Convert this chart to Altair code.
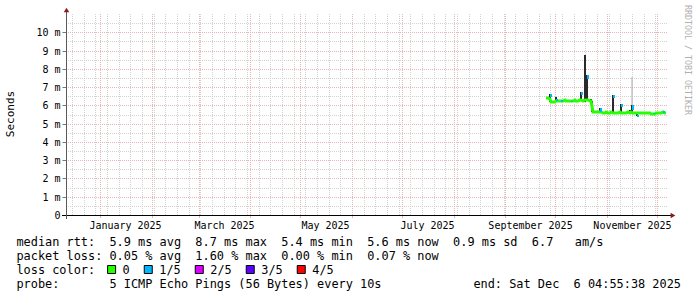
import altair as alt
import pandas as pd

MONO = "DejaVu Sans Mono"

# ---------------- data ----------------
# daily median RTT (ms), one value per day at 12:00 UTC starting 2025-09-25
median_first_day = "2025-09-25 12:00"
median_ms = [
    6.38, 6.38, 6.36, 6.21, 6.20, 6.20,                                   # Sep 25-30
    6.23, 6.26, 6.25, 6.24, 6.26, 6.27, 6.26, 6.25, 6.26, 6.24, 6.25,     # Oct 1-11
    6.27, 6.26, 6.26, 6.27, 6.28, 6.26, 6.27, 6.29, 6.27, 6.26, 6.25,     # Oct 12-22
    5.64, 5.62, 5.61, 5.62, 5.63, 5.61, 5.60, 5.60, 5.61,                 # Oct 23-31
    5.60, 5.60, 5.61, 5.60, 5.60, 5.59, 5.60, 5.61, 5.60, 5.60,           # Nov 1-10
    5.59, 5.60, 5.61, 5.60, 5.61, 5.60, 5.60, 5.59, 5.57, 5.57,           # Nov 11-20
    5.58, 5.57, 5.57, 5.58, 5.57, 5.56, 5.53, 5.52, 5.53, 5.56,           # Nov 21-30
    5.57, 5.58, 5.58, 5.62, 5.60,                                         # Dec 1-5
]
median_last_time = "2025-12-06T04:00:00Z"
median_last_ms = 5.60

# smoke (spread of the pings) where it shows above/below the median
smoke_time = ["2025-09-27T20:00:00Z", "2025-10-01T10:00:00Z", "2025-10-16T10:00:00Z",
              "2025-10-18T22:00:00Z", "2025-10-19T22:00:00Z", "2025-10-22T12:00:00Z",
              "2025-10-23T00:00:00Z", "2025-10-27T20:00:00Z", "2025-11-04T12:00:00Z",
              "2025-11-09T10:00:00Z", "2025-11-14T20:00:00Z", "2025-11-16T00:00:00Z",
              "2025-11-19T00:00:00Z"]
smoke_lo = [6.18, 6.20, 6.22, 6.20, 6.22, 6.22, 5.62, 5.56, 5.56, 5.56, 5.56, 5.56, 5.40]
smoke_hi = [6.62, 6.47, 6.75, 8.75, 7.66, 6.36, 6.26, 5.84, 6.57, 6.08, 5.72, 6.02, 5.62]

# faint single outlier
outlier_time = ["2025-11-16T00:00:00Z"]
outlier_lo = [6.00]
outlier_hi = [7.57]

# samples with 1/5 packet loss (blue)
loss_time = ["2025-09-27T20:00:00Z", "2025-10-01T10:00:00Z", "2025-10-04T06:00:00Z",
             "2025-10-10T16:00:00Z", "2025-10-16T10:00:00Z", "2025-10-19T22:00:00Z",
             "2025-10-27T20:00:00Z", "2025-11-04T12:00:00Z", "2025-11-09T10:00:00Z",
             "2025-11-16T00:00:00Z", "2025-11-19T00:00:00Z", "2025-11-28T20:00:00Z",
             "2025-12-04T08:00:00Z"]
loss_lo = [6.45, 6.24, 6.20, 6.17, 6.56, 7.42, 5.64, 6.40, 5.92, 5.76, 5.38, 5.52, 5.60]
loss_hi = [6.62, 6.36, 6.30, 6.26, 6.72, 7.66, 5.84, 6.57, 6.08, 6.02, 5.50, 5.60, 5.70]

# axis ticks
x_label_months = [(2025, 1), (2025, 3), (2025, 5), (2025, 7), (2025, 9), (2025, 11)]
y_tick_values = [0, 1, 2, 3, 4, 5, 6, 7, 8, 9, 10]
y_minor_values = [0.5, 1.5, 2.5, 3.5, 4.5, 5.5, 6.5, 7.5, 8.5, 9.5, 10.5]
y_major_values = [1, 2, 3, 4, 5, 6, 7, 8, 9, 10]

# legend text
legend_lines = [
    "median rtt:  5.9 ms avg  8.7 ms max  5.4 ms min  5.6 ms now  0.9 ms sd  6.7   am/s",
    "packet loss: 0.05 % avg  1.60 % max  0.00 % min  0.07 % now",
    "loss color:",
    "probe:       5 ICMP Echo Pings (56 Bytes) every 10s",
]
end_text = "end: Sat Dec  6 04:55:38 2025"
loss_labels = ["0", "1/5", "2/5", "3/5", "4/5"]
loss_colors = ["#26ff00", "#00b8ff", "#dd00ff", "#5e00ff", "#ff0000"]

# ---------------- tables ----------------
def iso(ts):
    return pd.Timestamp(ts).strftime("%Y-%m-%dT%H:%M:%SZ")

med_times = [iso(t) for t in pd.date_range(median_first_day, periods=len(median_ms), freq="D")]
med_df = pd.DataFrame({"t": med_times + [median_last_time], "v": median_ms + [median_last_ms]})
smoke_df = pd.DataFrame({"t": smoke_time, "lo": smoke_lo, "hi": smoke_hi})
out_df = pd.DataFrame({"t": outlier_time, "lo": outlier_lo, "hi": outlier_hi})
loss_df = pd.DataFrame({"t": loss_time, "lo": loss_lo, "hi": loss_hi})
week_df = pd.DataFrame({"t": [iso(t) for t in pd.date_range("2024-12-15", "2025-12-06", freq="7D")]})
month_df = pd.DataFrame({"t": [iso(t) for t in pd.date_range("2025-01-01", "2025-12-01", freq="MS")]})
yminor_df = pd.DataFrame({"v": y_minor_values})
ymajor_df = pd.DataFrame({"v": y_major_values})

# ---------------- scales / axes ----------------
XS = alt.Scale(type="utc", nice=False, round=True,
               domain=[alt.DateTime(year=2024, month=12, date=11, hours=9, utc=True),
                       alt.DateTime(year=2025, month=12, date=6, hours=9, utc=True)])
YS = alt.Scale(domain=[0, 11], nice=False, zero=False, round=True)

x_axis = alt.Axis(
    values=[alt.DateTime(year=y, month=m, date=16, utc=True) for y, m in x_label_months],
    labelExpr="utcFormat(datum.value, '%B %Y')",
    title=None, grid=False, domain=False, ticks=False, labelPadding=5,
    labelFont=MONO, labelFontSize=10, labelColor="#000000",
    labelOverlap=False, labelFlush=False)
y_axis = alt.Axis(
    values=y_tick_values,
    labelExpr="datum.value == 0 ? '0' : datum.value + ' m'",
    title=None, grid=False, domain=False, tickSize=4, tickColor="#777777",
    labelPadding=2, labelFont=MONO, labelFontSize=10, labelColor="#000000",
    labelFlush=False)

def X(f):
    return alt.X(f, type="temporal", scale=XS, axis=x_axis)

def Y(f):
    return alt.Y(f, type="quantitative", scale=YS, axis=y_axis)

MINOR = "#d2d2d2"
MAJOR = "#e8b4b4"

layers = []
# grid
layers.append(alt.Chart(week_df).mark_rule(color=MINOR, strokeWidth=1, strokeDash=[1, 1], xOffset=0.5)
              .encode(x=X("t"), y=alt.value(0), y2=alt.value(201)))
layers.append(alt.Chart(yminor_df).mark_rule(color=MINOR, strokeWidth=1, strokeDash=[1, 1], yOffset=0.5)
              .encode(y=Y("v"), x=alt.value(0), x2=alt.value(601)))
layers.append(alt.Chart(month_df).mark_rule(color=MAJOR, strokeWidth=1, strokeDash=[1, 1], xOffset=0.5)
              .encode(x=X("t"), y=alt.value(0), y2=alt.value(201)))
layers.append(alt.Chart(month_df).mark_rule(color=MAJOR, strokeWidth=1, xOffset=0.5)
              .encode(x=X("t"), y=alt.value(201), y2=alt.value(204)))
layers.append(alt.Chart(ymajor_df).mark_rule(color=MAJOR, strokeWidth=1, strokeDash=[1, 1], yOffset=0.5)
              .encode(y=Y("v"), x=alt.value(0), x2=alt.value(601)))

# data
layers.append(alt.Chart(out_df).mark_rule(color="#a8a8a8", strokeWidth=1)
              .encode(x=X("t"), y=Y("lo"), y2="hi"))
layers.append(alt.Chart(smoke_df).mark_rule(color="#2a2a2a", strokeWidth=2)
              .encode(x=X("t"), y=Y("lo"), y2="hi"))
layers.append(alt.Chart(med_df).mark_line(color="#26ff00", strokeWidth=3)
              .encode(x=X("t"), y=Y("v")))
layers.append(alt.Chart(loss_df).mark_rule(color="#00b8ff", strokeWidth=2, xOffset=1)
              .encode(x=X("t"), y=Y("lo"), y2="hi"))

# axis lines and arrows
one = pd.DataFrame({"a": [0]})
layers.append(alt.Chart(one).mark_rule(color="#000000", strokeWidth=1)
              .encode(x=alt.value(-4), x2=alt.value(606), y=alt.value(201.5)))
layers.append(alt.Chart(one).mark_rule(color="#5a5a5a", strokeWidth=1)
              .encode(x=alt.value(0.5), y=alt.value(-3), y2=alt.value(205)))
layers.append(alt.Chart(one).mark_point(shape="triangle-up", filled=True, size=30, color="#8b1a1a", opacity=1)
              .encode(x=alt.value(0.5), y=alt.value(-4)))
layers.append(alt.Chart(one).mark_point(shape="triangle-right", filled=True, size=30, color="#8b1a1a", opacity=1)
              .encode(x=alt.value(607), y=alt.value(201.5)))

# titles
layers.append(alt.Chart(pd.DataFrame({"s": ["Seconds"]}))
              .mark_text(font=MONO, fontSize=11, angle=270, align="center", baseline="middle", color="#000000")
              .encode(text="s:N", x=alt.value(-55.5), y=alt.value(100)))
layers.append(alt.Chart(pd.DataFrame({"s": ["RRDTOOL / TOBI OETIKER"]}))
              .mark_text(font=MONO, fontSize=8.3, angle=90, align="left", baseline="middle", color="#b0b0b0")
              .encode(text="s:N", x=alt.value(621), y=alt.value(-9)))

# legend
FS = 11.9
CW = 0.602 * FS
NB = "\u00a0"
line_y = [227.5, 241.5, 255.5, 269.5]
for txt, yy in zip(legend_lines, line_y):
    layers.append(alt.Chart(pd.DataFrame({"s": [txt.replace(" ", NB)]}))
                  .mark_text(font=MONO, fontSize=FS, align="left", baseline="middle", color="#000000")
                  .encode(text="s:N", x=alt.value(-49.6), y=alt.value(yy)))
layers.append(alt.Chart(pd.DataFrame({"s": [end_text.replace(" ", NB)]}))
              .mark_text(font=MONO, fontSize=FS, align="right", baseline="middle", color="#000000")
              .encode(text="s:N", x=alt.value(615), y=alt.value(269.5)))

bx = 107.6 - 66
for lab, col in zip(loss_labels, loss_colors):
    layers.append(alt.Chart(one).mark_rect(fill=col, stroke="#000000", strokeWidth=1)
                  .encode(x=alt.value(bx), x2=alt.value(bx + 8), y=alt.value(251.5), y2=alt.value(259.5)))
    tx = bx + 15
    layers.append(alt.Chart(pd.DataFrame({"s": [lab]}))
                  .mark_text(font=MONO, fontSize=FS, align="left", baseline="middle", color="#000000")
                  .encode(text="s:N", x=alt.value(tx), y=alt.value(255.5)))
    bx = tx + len(lab) * CW + 14.5

chart = (alt.layer(*layers)
         .properties(width=600, height=201, autosize="none",
                     padding={"left": 66, "top": 14, "right": 31, "bottom": 82},
                     background="white")
         .configure_view(strokeWidth=0))

chart.save("out.html", embed_options={"renderer": "svg", "actions": False})
